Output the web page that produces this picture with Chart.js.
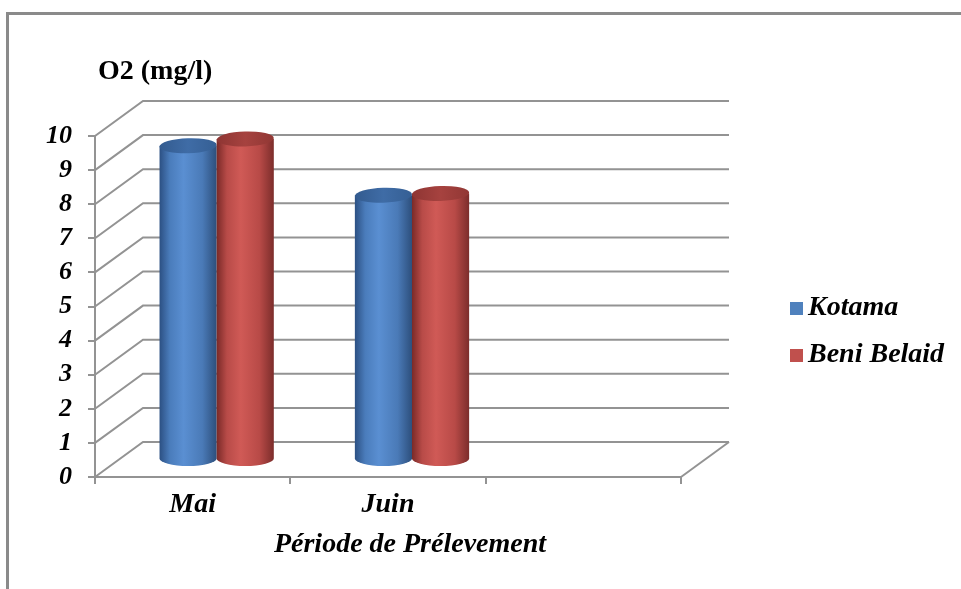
<!DOCTYPE html>
<html>
<head>
<meta charset="utf-8">
<script src="https://cdn.jsdelivr.net/npm/chart.js@4/dist/chart.umd.min.js"></script>
<style>
  html, body { margin: 0; padding: 0; background: #ffffff; }
  canvas { display: block; }
</style>
</head>
<body>
<canvas id="chart" width="961" height="589"></canvas>
<script>
// Dissolved oxygen per sampling month, two stations
const categories = ['Mai', 'Juin', ''];
const kotama = [9.2, 7.75, null];
const beniBelaid = [9.4, 7.8, null];
const yTicks = [0, 1, 2, 3, 4, 5, 6, 7, 8, 9, 10];
const seriesNames = ['Kotama', 'Beni Belaid'];

const FONT = "'Liberation Serif', 'Times New Roman', serif";
const GRID = '#939393';
// depth of the 3D box (back wall offset relative to the front plane)
const DEPTH_X = 48;
const DEPTH_Y = -35;

const palettes = [
  { swatch: '#4f81bd', stops: ['#2c5083', '#4a7cbb', '#5a8fd2', '#4a7ab7', '#2d4f7c'], top: ['#335b8f', '#3f6ca6', '#355f94'] },
  { swatch: '#c0504d', stops: ['#7a2a28', '#b84b48', '#d05a56', '#b84a47', '#7c2d2b'], top: ['#8e3533', '#a6423f', '#913734'] }
];

// Back wall, side wall diagonals and floor of the 3D frame
const wallPlugin = {
  id: 'wall',
  beforeDatasetsDraw(chart) {
    const { ctx, chartArea } = chart;
    const y = chart.scales.y;
    ctx.save();
    ctx.strokeStyle = GRID;
    ctx.lineWidth = 2;
    yTicks.forEach(v => {
      const py = y.getPixelForValue(v);
      ctx.beginPath();
      ctx.moveTo(chartArea.left, py);
      ctx.lineTo(chartArea.left + DEPTH_X, py + DEPTH_Y);
      ctx.lineTo(chartArea.right + DEPTH_X, py + DEPTH_Y);
      ctx.stroke();
    });
    // floor right edge
    const py0 = y.getPixelForValue(0);
    ctx.beginPath();
    ctx.moveTo(chartArea.right, py0);
    ctx.lineTo(chartArea.right + DEPTH_X, py0 + DEPTH_Y);
    ctx.stroke();
    ctx.restore();
  }
};

// Bars rendered as shaded cylinders standing half way into the box
const cylinderPlugin = {
  id: 'cylinders',
  afterDatasetsDraw(chart) {
    const { ctx } = chart;
    chart.data.datasets.forEach((ds, di) => {
      const meta = chart.getDatasetMeta(di);
      const pal = palettes[di];
      meta.data.forEach((bar, i) => {
        if (ds.data[i] === null || ds.data[i] === undefined) return;
        const p = bar.getProps(['x', 'y', 'base', 'width'], true);
        const cx = p.x + DEPTH_X / 2;
        const rx = p.width / 2;
        const ry = 7.5;
        const top = p.y + DEPTH_Y / 2;
        const bottom = p.base + DEPTH_Y / 2;
        const left = cx - rx, right = cx + rx;

        const g = ctx.createLinearGradient(left, 0, right, 0);
        g.addColorStop(0, pal.stops[0]);
        g.addColorStop(0.18, pal.stops[1]);
        g.addColorStop(0.42, pal.stops[2]);
        g.addColorStop(0.75, pal.stops[3]);
        g.addColorStop(1, pal.stops[4]);

        ctx.save();
        ctx.beginPath();
        ctx.moveTo(left, top);
        ctx.lineTo(left, bottom);
        ctx.ellipse(cx, bottom, rx, ry, 0, Math.PI, 0, true);
        ctx.lineTo(right, top);
        ctx.closePath();
        ctx.fillStyle = g;
        ctx.fill();

        const gt = ctx.createLinearGradient(left, 0, right, 0);
        gt.addColorStop(0, pal.top[0]);
        gt.addColorStop(0.5, pal.top[1]);
        gt.addColorStop(1, pal.top[2]);
        ctx.beginPath();
        ctx.ellipse(cx, top, rx, ry, -0.03, 0, Math.PI * 2);
        ctx.fillStyle = gt;
        ctx.fill();
        ctx.restore();
      });
    });
  }
};

// Outer frame, axis captions and legend
const decorPlugin = {
  id: 'decor',
  afterDraw(chart) {
    const { ctx } = chart;
    ctx.save();
    ctx.strokeStyle = '#8a8a8a';
    ctx.lineWidth = 3;
    ctx.beginPath();
    ctx.moveTo(7.5, 600);
    ctx.lineTo(7.5, 13.5);
    ctx.lineTo(970, 13.5);
    ctx.stroke();

    ctx.fillStyle = '#000000';
    ctx.textBaseline = 'middle';
    ctx.textAlign = 'left';
    ctx.font = 'bold 28px ' + FONT;
    ctx.fillText('O2 (mg/l)', 98, 72);

    ctx.textAlign = 'center';
    ctx.font = 'italic bold 28px ' + FONT;
    ctx.fillText('Période de Prélevement', 410, 545);

    ctx.textAlign = 'left';
    const legendY = [308, 355];
    chart.data.datasets.forEach((ds, di) => {
      ctx.fillStyle = palettes[di].swatch;
      ctx.fillRect(790, legendY[di] - 6, 13, 13);
      ctx.fillStyle = '#000000';
      ctx.font = 'italic bold 28px ' + FONT;
      ctx.fillText(ds.label, 808, legendY[di]);
    });
    ctx.restore();
  }
};

new Chart(document.getElementById('chart'), {
  type: 'bar',
  data: {
    labels: categories,
    datasets: [
      { label: seriesNames[0], data: kotama, backgroundColor: 'rgba(0,0,0,0)', borderWidth: 0 },
      { label: seriesNames[1], data: beniBelaid, backgroundColor: 'rgba(0,0,0,0)', borderWidth: 0 }
    ]
  },
  options: {
    responsive: false,
    animation: false,
    devicePixelRatio: 1,
    categoryPercentage: 0.585,
    barPercentage: 1.0,
    layout: { padding: { left: 0, top: 136, right: 280, bottom: 0 } },
    plugins: {
      legend: { display: false },
      tooltip: { enabled: false },
      title: { display: false }
    },
    scales: {
      x: {
        offset: true,
        afterFit(s) { s.height = 112; },
        grid: { drawOnChartArea: false, color: GRID, lineWidth: 2, tickLength: 7, offset: true },
        border: { color: GRID, width: 2 },
        ticks: { color: '#000000', padding: 4, font: { family: FONT, size: 28, style: 'italic', weight: 'bold' } }
      },
      y: {
        min: 0,
        max: 10,
        afterFit(s) { s.width = 95; },
        afterBuildTicks(s) { s.ticks = yTicks.map(v => ({ value: v })); },
        grid: { drawOnChartArea: false, color: GRID, lineWidth: 2, tickLength: 7 },
        border: { color: GRID, width: 2 },
        ticks: { color: '#000000', padding: 16, autoSkip: false, font: { family: FONT, size: 26, style: 'italic', weight: 'bold' } }
      }
    }
  },
  plugins: [wallPlugin, cylinderPlugin, decorPlugin]
});
</script>
</body>
</html>
